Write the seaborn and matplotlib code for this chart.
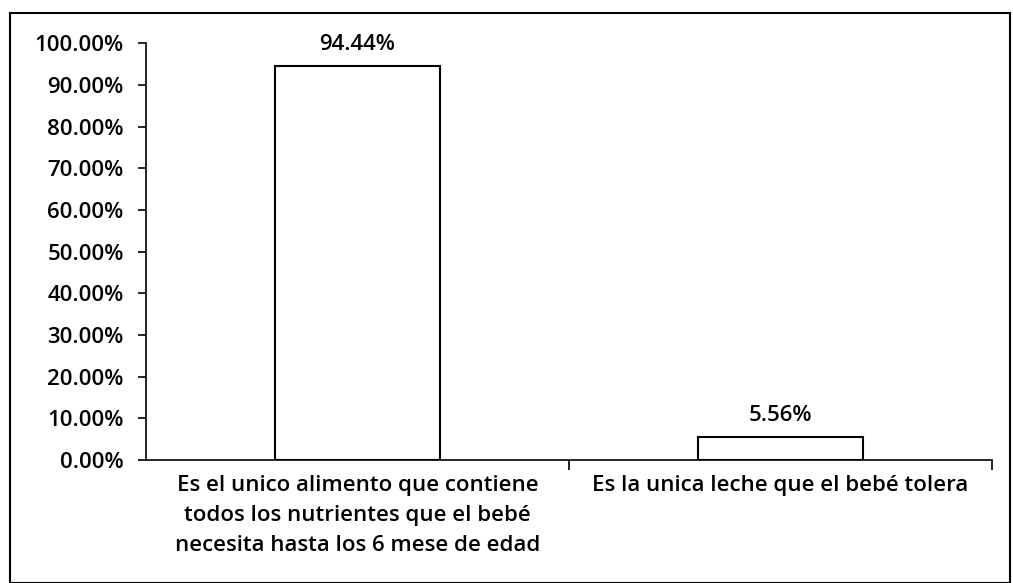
import pandas as pd
import seaborn as sns
import matplotlib.pyplot as plt
from matplotlib.patches import Rectangle
from matplotlib.ticker import FuncFormatter, FixedLocator

categories = [
    "Es el unico alimento que contiene\ntodos los nutrientes que el bebé\nnecesita hasta los 6 mese de edad",
    "Es la unica leche que el bebé tolera",
]
values = [94.44, 5.56]
y_ticks = [0, 10, 20, 30, 40, 50, 60, 70, 80, 90, 100]

sns.set_theme(style="white")
plt.rcParams["font.family"] = ["Open Sans", "DejaVu Sans"]
FS = 16
FW = "semibold"

df = pd.DataFrame({"categoria": categories, "porcentaje": values})

fig = plt.figure(figsize=(10.13, 5.83), dpi=100)
ax = fig.add_axes([0.144, 0.211, 0.835, 0.715])

sns.barplot(data=df, x="categoria", y="porcentaje", ax=ax, color="white",
            edgecolor="black", linewidth=1.5, width=0.39)

ax.set_ylim(0, 100)
ax.set_xlim(-0.5, 1.5)
ax.yaxis.set_major_locator(FixedLocator(y_ticks))
ax.yaxis.set_major_formatter(FuncFormatter(lambda v, p: f"{v:.2f}%"))
ax.tick_params(axis="y", direction="out", length=6, width=1.2, color="black",
               labelsize=FS, pad=10, left=True)
ax.tick_params(axis="x", which="major", length=0, labelsize=FS, pad=11)
ax.xaxis.set_minor_locator(FixedLocator([0.5, 1.5]))
ax.tick_params(axis="x", which="minor", direction="out", length=7, width=1.2,
               color="black", bottom=True)
for lab in ax.get_xticklabels():
    lab.set_linespacing(1.55)
    lab.set_color("black")
    lab.set_fontweight(FW)
for lab in ax.get_yticklabels():
    lab.set_color("black")
    lab.set_fontweight(FW)

ax.set_xlabel("")
ax.set_ylabel("")
for side in ["top", "right"]:
    ax.spines[side].set_visible(False)
for side in ["left", "bottom"]:
    ax.spines[side].set_color("black")
    ax.spines[side].set_linewidth(1.2)

for i, v in enumerate(values):
    ax.annotate(f"{v:.2f}%", (i, v), xytext=(0, 8), textcoords="offset points",
                ha="center", va="bottom", fontsize=FS, fontweight=FW, color="black")

fig.patches.append(Rectangle((0.010, 0.0), 0.987, 0.978, transform=fig.transFigure,
                             fill=False, edgecolor="black", linewidth=1.5))

fig.savefig("out.png", dpi=100, facecolor="white")
